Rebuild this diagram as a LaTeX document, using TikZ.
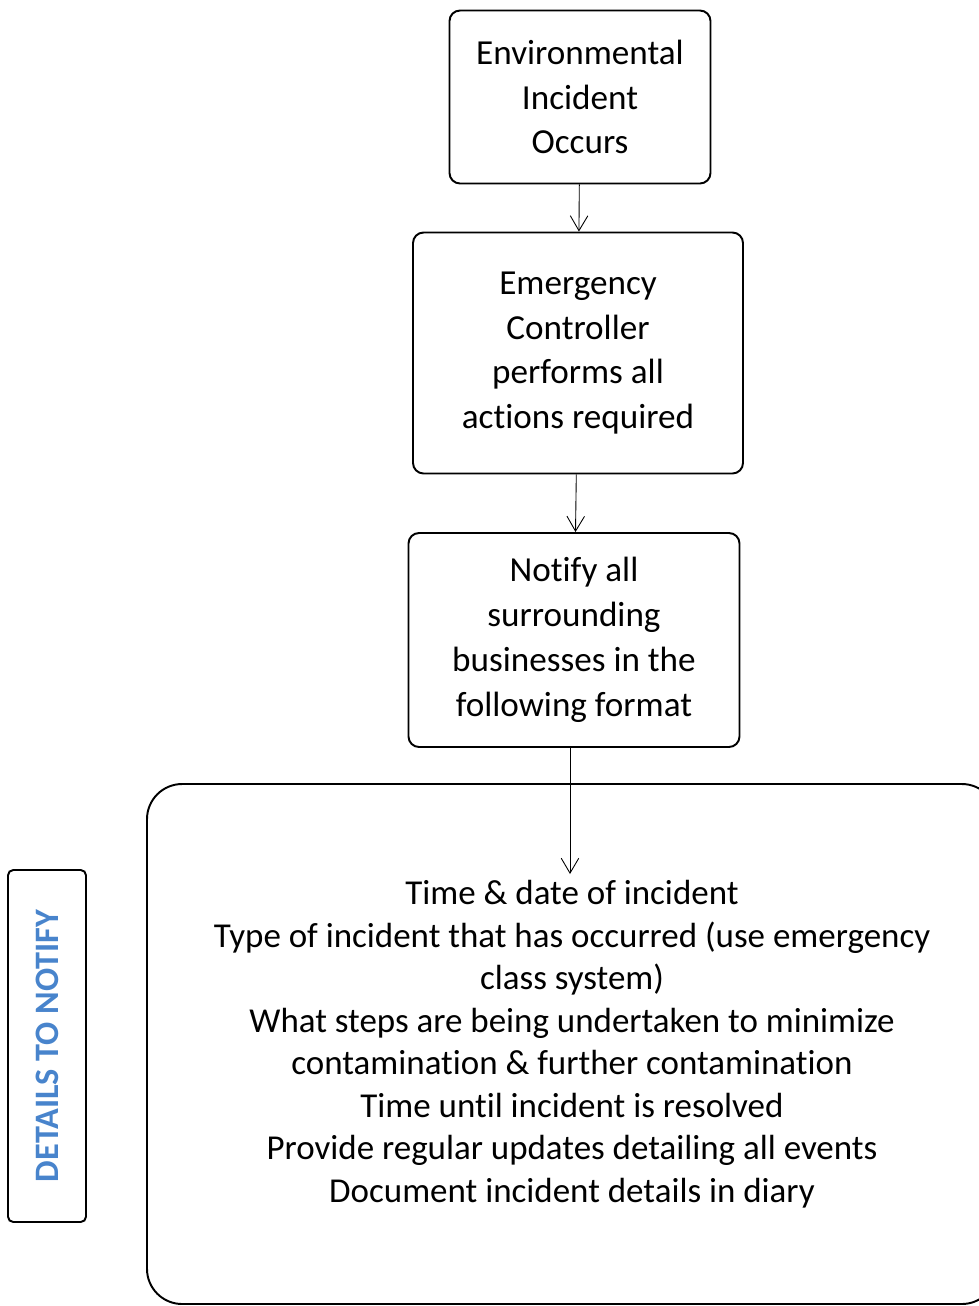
\documentclass[tikz,border=0pt]{standalone}
\usepackage{fontspec}
\setmainfont{Carlito}[Ligatures=NoCommon]
\usetikzlibrary{arrows.meta}

\definecolor{notifyblue}{RGB}{72,132,204}

\begin{document}
\begin{tikzpicture}[x=0.02cm, y=-0.02cm, thick,
    main/.style = {draw, line width=1.1pt, rounded corners=6pt, align=center, font=\fontsize{20}{25.5}\selectfont, inner sep=0pt},
    details/.style = {draw, line width=1.1pt, rounded corners=20pt, align=center, font=\fontsize{19.9}{24.2}\selectfont, inner sep=0pt},
    side/.style = {draw, line width=1.1pt, rounded corners=3pt, rotate=90, inner sep=0pt, text=notifyblue, font=\fontsize{19.5}{22}\selectfont\bfseries},
    flow/.style = {-{Straight Barb[length=8.5pt, width=10pt]}, line width=0.5pt}]
    \useasboundingbox (0,0) rectangle (979,1306);

    \node[main, minimum width=261*0.02cm, minimum height=173*0.02cm] (occurs) at (580,97) {Environmental\\Incident\\Occurs};
    \node[main, minimum width=330*0.02cm, minimum height=241*0.02cm] (controller) at (578,353) {Emergency\\Controller\\performs all\\actions required};
    \node[main, minimum width=331*0.02cm, minimum height=214*0.02cm] (notify) at (574,640) {Notify all\\surrounding\\businesses in the\\following format};
    \node[details, minimum width=850*0.02cm, minimum height=520*0.02cm] (format) at (572,1044) {Time \& date of incident\\Type of incident that has occurred (use emergency\\class system)\\What steps are being undertaken to minimize\\contamination \& further contamination\\Time until incident is resolved\\Provide regular updates detailing all events\\Document incident details in diary};
    \node[side, minimum width=352*0.02cm, minimum height=78*0.02cm] (label) at (47,1046) {DETAILS TO NOTIFY};
    \coordinate (entry) at (570,874);

    \draw[flow] (occurs) -- (controller);
    \draw[flow] (controller) -- (notify);
    \draw[flow] (notify.south -| entry) -- (entry);
\end{tikzpicture}
\end{document}
